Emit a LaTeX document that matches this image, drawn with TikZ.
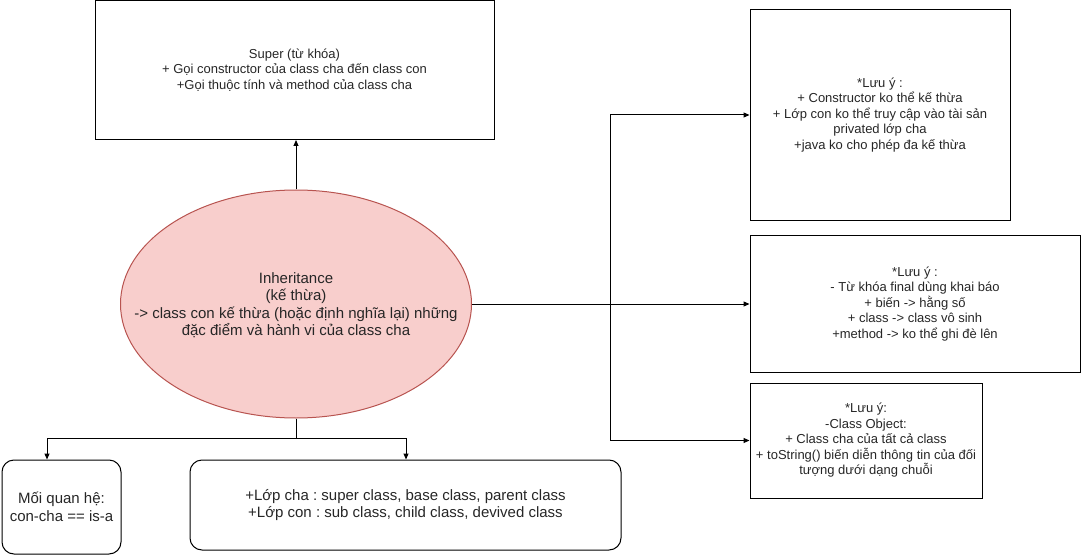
\documentclass[tikz,border=0pt]{standalone}
\usepackage{fontspec}
\setmainfont{Liberation Sans}
\usetikzlibrary{arrows.meta,shapes.geometric}
\frenchspacing
\begin{document}
\begin{tikzpicture}[x=1pt,y=-1pt,
  every node/.style={text=black!85},
  box/.style={draw=black, line width=1pt, rectangle, align=center, inner sep=0pt,
    font=\fontsize{13}{15.5}\selectfont\frenchspacing},
  rbox/.style={box, rounded corners=12pt, font=\fontsize{15}{17.5}\selectfont\frenchspacing},
  oval/.style={draw={rgb,255:red,184;green,84;blue,80}, fill={rgb,255:red,248;green,206;blue,204},
    line width=1pt, ellipse, inner sep=0pt},
  ovaltext/.style={align=center, inner sep=0pt, font=\fontsize{15}{17.5}\selectfont\frenchspacing},
  conn/.style={line width=1pt, draw=black},
  arr/.style={conn, -{Triangle[length=6pt,width=5pt]}}]
\useasboundingbox (0,0) rectangle (1081,556);
\node[box, minimum width=399pt, minimum height=139pt] (super) at (294.5,70)
  {Super (từ khóa)\\+ Gọi constructor của class cha đến class con\\+Gọi thuộc tính và method của class cha};
\node[oval, minimum width=351pt, minimum height=228pt] (inh) at (296,304) {};
\node[ovaltext] (inhtext) at (296,305)
  {Inheritance\\(kế thừa)\\-> class con kế thừa (hoặc định nghĩa lại) những\\đặc điểm và hành vi của class cha};
\node[box, minimum width=260pt, minimum height=210pt] (n1) at (880,115)
  {*Lưu ý :\\+ Constructor ko thể kế thừa\\+ Lớp con ko thể truy cập vào tài sản\\privated lớp cha\\+java ko cho phép đa kế thừa};
\node[box, minimum width=330pt, minimum height=137pt] (n2) at (915,304)
  {*Lưu ý :\\- Từ khóa final dùng khai báo\\+ biến -> hằng số\\+ class -> class vô sinh\\+method -> ko thể ghi đè lên};
\node[box, minimum width=232pt, minimum height=115pt] (n3) at (866,440.5)
  {*Lưu ý:\\-Class Object:\\+ Class cha của tất cả class\\+ toString() biến diễn thông tin của đối\\tượng dưới dạng chuỗi};
\node[rbox, minimum width=119pt, minimum height=94pt] (rel) at (61.5,507)
  {Mối quan hệ:\\con-cha == is-a};
\node[rbox, minimum width=431pt, minimum height=90pt] (lop) at (405.5,505)
  {+Lớp cha : super class, base class, parent class\\+Lớp con : sub class, child class, devived class};
\coordinate (j) at (610,304);
\coordinate (b) at (296,438);
\coordinate (bl) at (47,438);
\coordinate (br) at (406,438);
\draw[arr] (inh.north) -- (inh.north |- super.south);
\draw[arr] (inh.east) -- (inh.east -| n2.west);
\draw[arr] (j) |- (n1.west);
\draw[arr] (j) |- (n3.west);
\draw[conn] (inh.south) -- (b);
\draw[arr] (b) -- (bl) -- (bl |- rel.north);
\draw[arr] (b) -- (br) -- (br |- lop.north);
\end{tikzpicture}
\end{document}
